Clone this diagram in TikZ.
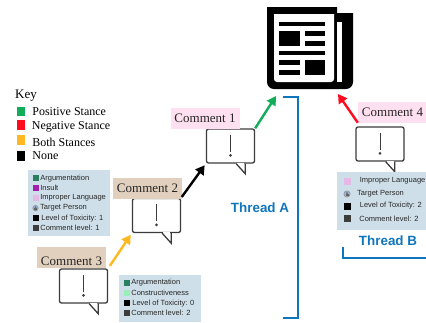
\documentclass[tikz,border=0pt]{standalone}
\usepackage{fontspec}
\setmainfont{Liberation Serif}
\setsansfont{Liberation Sans}
\usetikzlibrary{positioning,arrows.meta}

\definecolor{keygreen}{HTML}{12AD5B}
\definecolor{keyred}{HTML}{FF0A1E}
\definecolor{keyorange}{HTML}{FFB81F}
\definecolor{threadblue}{HTML}{0F75BC}
\definecolor{boxblue}{HTML}{CFDFE9}
\definecolor{labelpink}{HTML}{FFE0F0}
\definecolor{labeltan}{HTML}{E2D0BE}
\definecolor{argcolor}{HTML}{2A7F5F}
\definecolor{insultcolor}{HTML}{A020B0}
\definecolor{impropercolor}{HTML}{E6B8E6}
\definecolor{constructcolor}{HTML}{98F0B8}
\definecolor{levelcolor}{HTML}{3C3C3C}
\definecolor{targetcolor}{HTML}{9DB4D6}

% tail and exclamation mark of a speech bubble
\newcommand{\bubbleicon}[1]{
	\draw[white, line width=1.8pt] ([xshift=-18pt]#1.south east) -- ([xshift=-11pt]#1.south east);
	\draw[bubbleline] ([xshift=-19pt]#1.south east) -- ++(9,10) -- ++(0,-10);
	\draw[bubbleline, line width=1pt] ([yshift=-6.5pt]#1.north) -- ([yshift=-23.5pt]#1.north);
	\fill[levelcolor] ([yshift=-27pt]#1.north) circle (1.4pt);
}
% small person in a ring
\newcommand{\targeticon}[2]{
	\draw[gray, fill=targetcolor, line width=0.4pt] (#1) circle (#2);
	\fill[levelcolor!80] ([yshift=0.9pt]#1) circle (0.9pt);
	\fill[levelcolor!80] ([xshift=-1.5pt,yshift=-1.7pt]#1) rectangle ([xshift=1.5pt,yshift=-0.3pt]#1);
}

\begin{document}
\begin{tikzpicture}[
		x=1pt, y=-1pt,
		% speech bubble
		bubblenode/.style={rectangle, draw=levelcolor, line width=1.3pt, fill=white, rounded corners=2pt, minimum width=48pt, minimum height=34pt, inner sep=0pt},
		bubbleline/.style={draw=levelcolor, line width=1.3pt},
		% label above a bubble
		commentnode/.style={rectangle, minimum width=69pt, minimum height=21pt, inner sep=0pt, font=\fontsize{13}{13}\selectfont, text=black!85},
		% panel behind the attributes
		infobox/.style={rectangle, fill=boxblue, inner sep=0pt},
		marknode/.style={rectangle, minimum size=6pt, inner sep=0pt},
		infotext/.style={inner sep=0pt, anchor=west, font=\fontsize{7.5}{8}\sffamily\selectfont, text=black!85},
		keymark/.style={rectangle, minimum width=8pt, minimum height=9.5pt, inner sep=0pt},
		keytext/.style={inner sep=0pt, anchor=west, font=\fontsize{12}{12}\selectfont},
		threadtext/.style={font=\fontsize{13.4}{14}\sffamily\bfseries\selectfont, text=threadblue},
		threadline/.style={draw=threadblue, line width=1.2pt},
		stancearrow/.style={line width=2.4pt, -{Triangle[length=9pt,width=10pt]}}
	]
	\useasboundingbox (0,0) rectangle (426,322);

	% Newspaper
	\fill (267,7) -- (337,7) -- (337,13) -- (353,13) [rounded corners=7pt] -- (353,89) -- (267,89) [sharp corners] -- (267,7) -- cycle;
	\fill[white] (274,14) -- (334,14) [rounded corners=3pt] -- (334,82) -- (274,82) [sharp corners] -- (274,14) -- cycle;
	\fill[white] (337,22) rectangle (342,82);
	\fill (279,22) rectangle (325,26);
	\fill (279,31) rectangle (300,46);
	\fill (305,31) rectangle (325,36);
	\fill (305,41) rectangle (325,46);
	\fill (279,51) rectangle (325,55);
	\fill (279,60) rectangle (300,65);
	\fill (279,70) rectangle (300,75);
	\fill (305,60) rectangle (325,75);
	\coordinate (paperA) at (276,96);
	\coordinate (paperB) at (338,94);

	% Key
	\node[keytext, font=\fontsize{13}{13}\selectfont] (keytitle) at (15,96) {Key};
	\node[keymark, fill=keygreen]  (keypos)  at (21,111.5)            {};
	\node[keymark, fill=keyred]    (keyneg)  at (21,125)              {};
	\node[keymark, fill=keyorange] (keyboth) at (21,140)              {};
	\node[keymark, fill=black]     (keynone) at (21,156)              {};
	\node[keytext]               (keypostext)  [right=7pt of keypos]  {Positive Stance};
	\node[keytext, yshift=-2pt]  (keynegtext)  [right=6.5pt of keyneg]  {Negative Stance};
	\node[keytext, yshift=-2pt]  (keybothtext) [right=7pt of keyboth] {Both Stances};
	\node[keytext]               (keynonetext) [right=7pt of keynone] {None};

	% Bubbles
	\node[bubblenode] (bubble1) at (230.5,146) {};
	\node[bubblenode] (bubble2) at (156.5,215.5) {};
	\node[bubblenode] (bubble3) at (83.5,286) {};
	\node[bubblenode] (bubble4) at (380,144) {};
	\bubbleicon{bubble1}
	\bubbleicon{bubble2}
	\bubbleicon{bubble3}
	\bubbleicon{bubble4}

	% Comment labels
	\node[commentnode, fill=labelpink] (comment1) at (205,118)   {Comment 1};
	\node[commentnode, fill=labeltan]  (comment2) at (147.5,188.5) {Comment 2};
	\node[commentnode, fill=labeltan, text height=15pt, text depth=0pt]  (comment3) at (71.5,257.5) {Comment 3};
	\node[commentnode, fill=labelpink] (comment4) at (392.5,112) {Comment 4};

	% Panel of comment 2
	\node[infobox, minimum width=82pt, minimum height=66pt] (box1) at (69,203) {};
	\node[marknode, fill=argcolor]      (arg1)    at (35.5,178.3)              {};
	\node[marknode, fill=insultcolor]   (insult1) [below of=arg1, node distance=9.5pt] {};
	\node[marknode, fill=impropercolor] (impr1)   [below of=insult1, node distance=9.7pt] {};
	\node[coordinate]                   (targ1)   [below of=impr1, node distance=10.6pt] {};
	\node[marknode, fill=black]         (tox1)    [below of=targ1, node distance=10pt] {};
	\node[marknode, fill=levelcolor]    (lev1)    [below of=tox1, node distance=10pt] {};
	\targeticon{targ1}{2.8pt}
	\node[infotext] (arg1text)    [right=1.5pt of arg1]    {Argumentation};
	\node[infotext] (insult1text) [right=1.5pt of insult1] {Insult};
	\node[infotext] (impr1text)   [right=1.5pt of impr1]   {Improper Language};
	\node[infotext] (targ1text)   [right=4.5pt of targ1]   {Target Person};
	\node[infotext] (tox1text)    [right=2.5pt of tox1]    {Level of Toxicity: 1};
	\node[infotext] (lev1text)    [right=1.5pt of lev1]    {Comment level: 1};

	% Panel of comment 3
	\node[infobox, minimum width=82pt, minimum height=47pt] (box2) at (160,298.5) {};
	\node[marknode, fill=argcolor]       (arg2)   at (126.5,283)                {};
	\node[marknode, fill=constructcolor] (cons2)  [below of=arg2, node distance=10.3pt] {};
	\node[marknode, fill=black]          (tox2)   [below of=cons2, node distance=10pt] {};
	\node[marknode, fill=levelcolor]     (lev2)   [below of=tox2, node distance=10pt] {};
	\node[infotext] (arg2text)  [right=1.5pt of arg2]  {Argumentation};
	\node[infotext] (cons2text) [right=1.5pt of cons2] {Constructiveness};
	\node[infotext] (tox2text)  [right=2.5pt of tox2]  {Level of Toxicity: 0};
	\node[infotext] (lev2text)  [right=1.5pt of lev2]  {Comment level: 2};

	% Panel of comment 4
	\node[infobox, minimum width=89pt, minimum height=58pt] (box4) at (381.5,201) {};
	\node[marknode, minimum size=7pt, fill=impropercolor] (impr4) at (347,181)  {};
	\node[coordinate]                                     (targ4) [below of=impr4, node distance=13pt] {};
	\node[marknode, minimum size=7pt, fill=black]         (tox4)  [below of=targ4, node distance=12pt] {};
	\node[marknode, minimum size=7pt, fill=levelcolor]    (lev4)  [below of=tox4, node distance=12.5pt] {};
	\targeticon{targ4}{3.2pt}
	\node[infotext] (impr4text) [right=9pt of impr4] {Improper Language};
	\node[infotext] (targ4text) [right=10pt of targ4]  {Target Person};
	\node[infotext] (tox4text)  [right=9pt of tox4]  {Level of Toxicity: 2};
	\node[infotext] (lev4text)  [right=8.5pt of lev4]  {Comment level: 2};

	% Threads
	\node[threadtext] (threadA) at (260,208) {Thread A};
	\node[threadtext] (threadB) at (388,241) {Thread B};
	\coordinate (threadAtop) at (283,97);
	\coordinate (threadAbot) at (283,318);
	\coordinate (threadBtop) at (343,247);
	\coordinate (threadBend) at (426,258);
	\draw[threadline] (threadAtop) -- (298,97) -- (298,318) -- (threadAbot);
	\draw[threadline] (threadBtop) |- (threadBend);

	% Stance arrows
	\draw[stancearrow, keygreen]  (bubble1.north east) -- (paperA);
	\draw[stancearrow, black, shorten <=1pt, shorten >=2pt]     (bubble2.north east) -- (bubble1.south west);
	\draw[stancearrow, keyorange, shorten <=3pt, shorten >=2pt] (bubble3.north east) -- (bubble2.south west);
	\draw[stancearrow, keyred]    (comment4.south west) -- (paperB);
\end{tikzpicture}
\end{document}
